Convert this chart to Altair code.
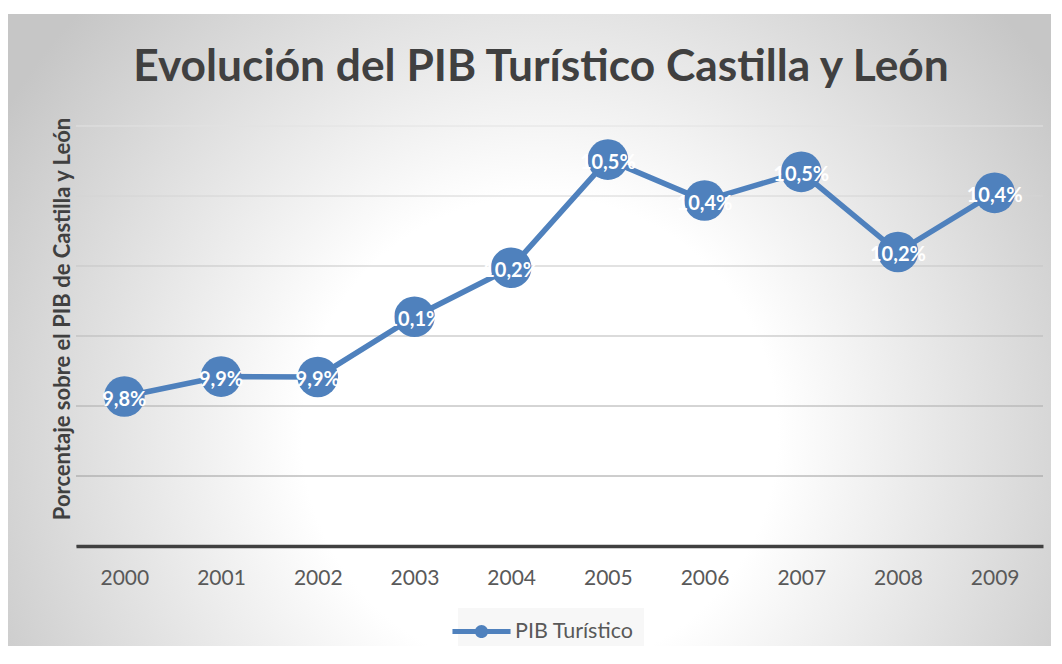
import altair as alt
import pandas as pd

# ---- data ----
years = ["2000", "2001", "2002", "2003", "2004", "2005", "2006", "2007", "2008", "2009"]
values = [9.827, 9.884, 9.883, 10.055, 10.195, 10.504, 10.387, 10.469, 10.240, 10.409]
labels = ["9,8%", "9,9%", "9,9%", "10,1%", "10,2%", "10,5%", "10,4%", "10,5%", "10,2%", "10,4%"]
series = ["PIB Turístico"] * len(years)
y_grid = [9.4, 9.6, 9.8, 10.0, 10.2, 10.4, 10.6]
title_text = "Evolución del PIB Turístico Castilla y León"
ytitle_text = "Porcentaje sobre el PIB de Castilla y León"

df = pd.DataFrame({"year": years, "value": values, "label": labels, "serie": series})
grid_df = pd.DataFrame({"g": y_grid})

FONT = "Lato"
BLUE = "#4f81bd"
W, H = 967, 420
PAD = {"left": 68, "top": 118, "right": 8, "bottom": 100}

yscale = alt.Scale(domain=[9.4, 10.6], nice=False, zero=False)
xenc = alt.X(
    "year:O",
    title=None,
    axis=alt.Axis(
        labelFont=FONT, labelFontSize=21, labelColor="#595959", labelAngle=0,
        labelPadding=21, ticks=False, grid=False,
        domain=True, domainColor="#404040", domainWidth=3.5, zindex=1,
    ),
)
yenc = alt.Y("value:Q", scale=yscale, axis=None)

gradient = alt.RadialGradient(
    gradient="radial",
    stops=[
        alt.GradientStop(offset=0, color="#ffffff"),
        alt.GradientStop(offset=0.38, color="#ffffff"),
        alt.GradientStop(offset=1, color="#c6c6c6"),
    ],
    x1=0.51, y1=0.6, r1=0, x2=0.51, y2=0.6, r2=0.6,
)

one = alt.Data(values=[{}])

bg = alt.Chart(one).mark_rect(fill=gradient).encode(
    x=alt.value(-PAD["left"]),
    x2=alt.value(W + PAD["right"]),
    y=alt.value(-PAD["top"] + 6),
    y2=alt.value(H + PAD["bottom"]),
)

title = alt.Chart(one).mark_text(
    text=title_text, font=FONT, fontSize=44.3, fontWeight="bold", color="#404040",
    align="center", baseline="middle",
).encode(x=alt.value(465), y=alt.value(-58))

ytitle = alt.Chart(one).mark_text(
    text=ytitle_text, font=FONT, fontSize=22, fontWeight="bold", color="#404040",
    align="center", baseline="middle", angle=270,
).encode(x=alt.value(-13), y=alt.value(193))

grid = alt.Chart(grid_df).mark_rule(strokeWidth=1).encode(
    y=alt.Y("g:Q", scale=yscale, axis=None),
    stroke=alt.Stroke("g:Q", scale=alt.Scale(domain=[9.6, 10.6], range=["#9c9c9c", "#e2e2e2"]), legend=None),
)

base = alt.Chart(df)

line = base.mark_line(strokeWidth=5.5, color=BLUE).encode(x=xenc, y=yenc)

pts = base.mark_point(filled=True, size=1650, opacity=1).encode(
    x=xenc,
    y=yenc,
    color=alt.Color(
        "serie:N",
        scale=alt.Scale(range=[BLUE]),
        legend=alt.Legend(
            title=None, orient="none", legendX=382, legendY=482,
            symbolType="M-2.2,-0.18 H2.2 V0.18 H-2.2 Z M-0.5,0 A0.5,0.5 0 1,1 0.5,0 A0.5,0.5 0 1,1 -0.5,0 Z",
            symbolSize=697, symbolFillColor=BLUE, symbolStrokeWidth=0,
            labelFont=FONT, labelFontSize=21.5, labelColor="#595959", labelOffset=20,
            fillColor="#f7f7f7", padding=10,
        ),
    ),
)

txt = base.mark_text(font=FONT, fontSize=20, fontWeight="bold", color="white", dy=3).encode(
    x=xenc,
    y=yenc,
    text="label:N",
)

chart = (
    alt.layer(bg, title, ytitle, grid, line, pts, txt)
    .properties(
        width=W, height=H,
        autosize=alt.AutoSizeParams(type="none"),
        padding=PAD,
    )
    .configure_view(stroke=None)
    .configure(background="white")
)

chart.save("out.html", embed_options={"renderer": "svg", "actions": False})
